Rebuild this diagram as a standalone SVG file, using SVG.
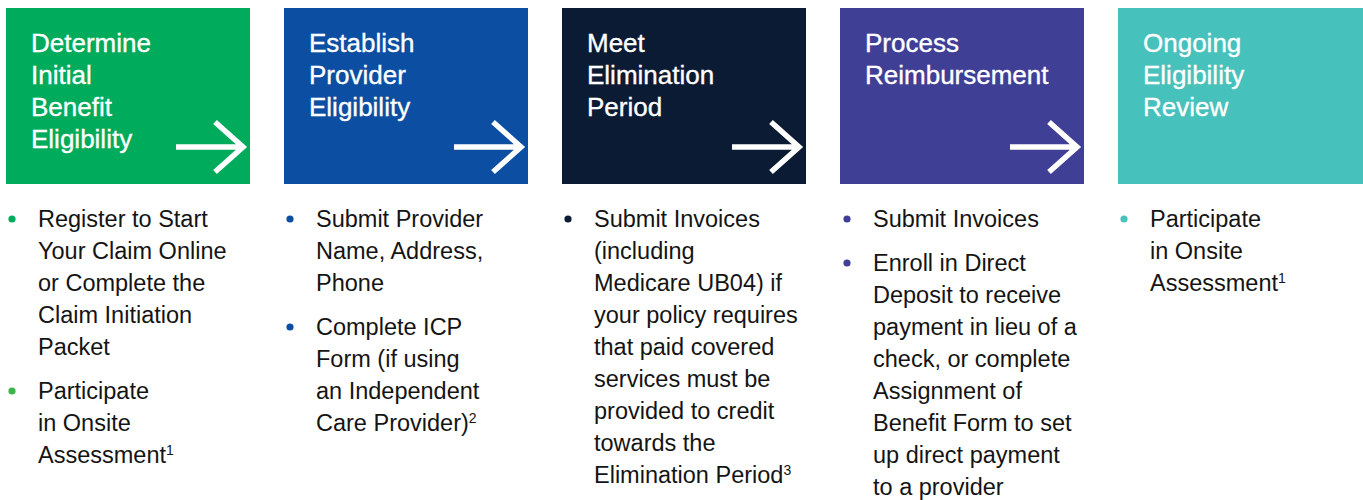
<svg xmlns="http://www.w3.org/2000/svg" width="1363" height="500" viewBox="0 0 1363 500">
  <style>
    .title { font-family: "Liberation Sans", Arial, sans-serif; font-size: 26px; fill: #ffffff; stroke: #ffffff; stroke-width: 0.35px; }
    .body { font-family: "Liberation Sans", Arial, sans-serif; font-size: 23.5px; fill: #141414; }
    .sup { font-size: 14px; }
    .arrow { fill: none; stroke: #ffffff; stroke-width: 5.5; stroke-linecap: butt; stroke-linejoin: miter; }
  </style>
  <defs>
    <!-- white right arrow, tip at origin -->
    <g id="step-arrow">
      <path class="arrow" d="M-69,0 H-2 M-30,-25 L-2,0 L-30,25"/>
    </g>
  </defs>

  <rect width="1363" height="500" fill="#ffffff"/>

  <!-- Step 1 -->
  <g id="step1">
    <rect x="6" y="8" width="244" height="176" fill="#00AB5B"/>
    <text class="title" x="31" y="52">Determine</text>
    <text class="title" x="31" y="84">Initial</text>
    <text class="title" x="31" y="116">Benefit</text>
    <text class="title" x="31" y="148">Eligibility</text>
    <use href="#step-arrow" x="245" y="147"/>
    <circle cx="12" cy="219" r="3.6" fill="#00AB5B"/>
    <text class="body" x="38" y="227">Register to Start</text>
    <text class="body" x="38" y="259">Your Claim Online</text>
    <text class="body" x="38" y="291">or Complete the</text>
    <text class="body" x="38" y="323">Claim Initiation</text>
    <text class="body" x="38" y="355">Packet</text>
    <circle cx="12" cy="391" r="3.6" fill="#3DB54A"/>
    <text class="body" x="38" y="399">Participate</text>
    <text class="body" x="38" y="431">in Onsite</text>
    <text class="body" x="38" y="463">Assessment<tspan class="sup" dy="-8">1</tspan></text>
  </g>

  <!-- Step 2 -->
  <g id="step2">
    <rect x="284" y="8" width="244" height="176" fill="#0C4EA2"/>
    <text class="title" x="309" y="52">Establish</text>
    <text class="title" x="309" y="84">Provider</text>
    <text class="title" x="309" y="116">Eligibility</text>
    <use href="#step-arrow" x="523" y="147"/>
    <circle cx="290" cy="219" r="3.6" fill="#0C4EA2"/>
    <text class="body" x="316" y="227">Submit Provider</text>
    <text class="body" x="316" y="259">Name, Address,</text>
    <text class="body" x="316" y="291">Phone</text>
    <circle cx="290" cy="327" r="3.6" fill="#0C4EA2"/>
    <text class="body" x="316" y="335">Complete ICP</text>
    <text class="body" x="316" y="367">Form (if using</text>
    <text class="body" x="316" y="399">an Independent</text>
    <text class="body" x="316" y="431">Care Provider)<tspan class="sup" dy="-8">2</tspan></text>
  </g>

  <!-- Step 3 -->
  <g id="step3">
    <rect x="562" y="8" width="244" height="176" fill="#0B1B34"/>
    <text class="title" x="587" y="52">Meet</text>
    <text class="title" x="587" y="84">Elimination</text>
    <text class="title" x="587" y="116">Period</text>
    <use href="#step-arrow" x="801" y="147"/>
    <circle cx="568" cy="219" r="3.6" fill="#0B1B34"/>
    <text class="body" x="594" y="227">Submit Invoices</text>
    <text class="body" x="594" y="259">(including</text>
    <text class="body" x="594" y="291">Medicare UB04) if</text>
    <text class="body" x="594" y="323">your policy requires</text>
    <text class="body" x="594" y="355">that paid covered</text>
    <text class="body" x="594" y="387">services must be</text>
    <text class="body" x="594" y="419">provided to credit</text>
    <text class="body" x="594" y="451">towards the</text>
    <text class="body" x="594" y="483">Elimination Period<tspan class="sup" dy="-8">3</tspan></text>
  </g>

  <!-- Step 4 -->
  <g id="step4">
    <rect x="840" y="8" width="244" height="176" fill="#403F96"/>
    <text class="title" x="865" y="52">Process</text>
    <text class="title" x="865" y="84">Reimbursement</text>
    <use href="#step-arrow" x="1079" y="147"/>
    <circle cx="847" cy="219" r="3.6" fill="#403F96"/>
    <text class="body" x="873" y="227">Submit Invoices</text>
    <circle cx="847" cy="263" r="3.6" fill="#403F96"/>
    <text class="body" x="873" y="271">Enroll in Direct</text>
    <text class="body" x="873" y="303">Deposit to receive</text>
    <text class="body" x="873" y="335">payment in lieu of a</text>
    <text class="body" x="873" y="367">check, or complete</text>
    <text class="body" x="873" y="399">Assignment of</text>
    <text class="body" x="873" y="431">Benefit Form to set</text>
    <text class="body" x="873" y="463">up direct payment</text>
    <text class="body" x="873" y="495">to a provider</text>
  </g>

  <!-- Step 5 -->
  <g id="step5">
    <rect x="1118" y="8" width="245" height="176" fill="#47C1BC"/>
    <text class="title" x="1143" y="52">Ongoing</text>
    <text class="title" x="1143" y="84">Eligibility</text>
    <text class="title" x="1143" y="116">Review</text>
    <circle cx="1124" cy="219" r="3.6" fill="#47C1BC"/>
    <text class="body" x="1150" y="227">Participate</text>
    <text class="body" x="1150" y="259">in Onsite</text>
    <text class="body" x="1150" y="291">Assessment<tspan class="sup" dy="-8">1</tspan></text>
  </g>
</svg>
